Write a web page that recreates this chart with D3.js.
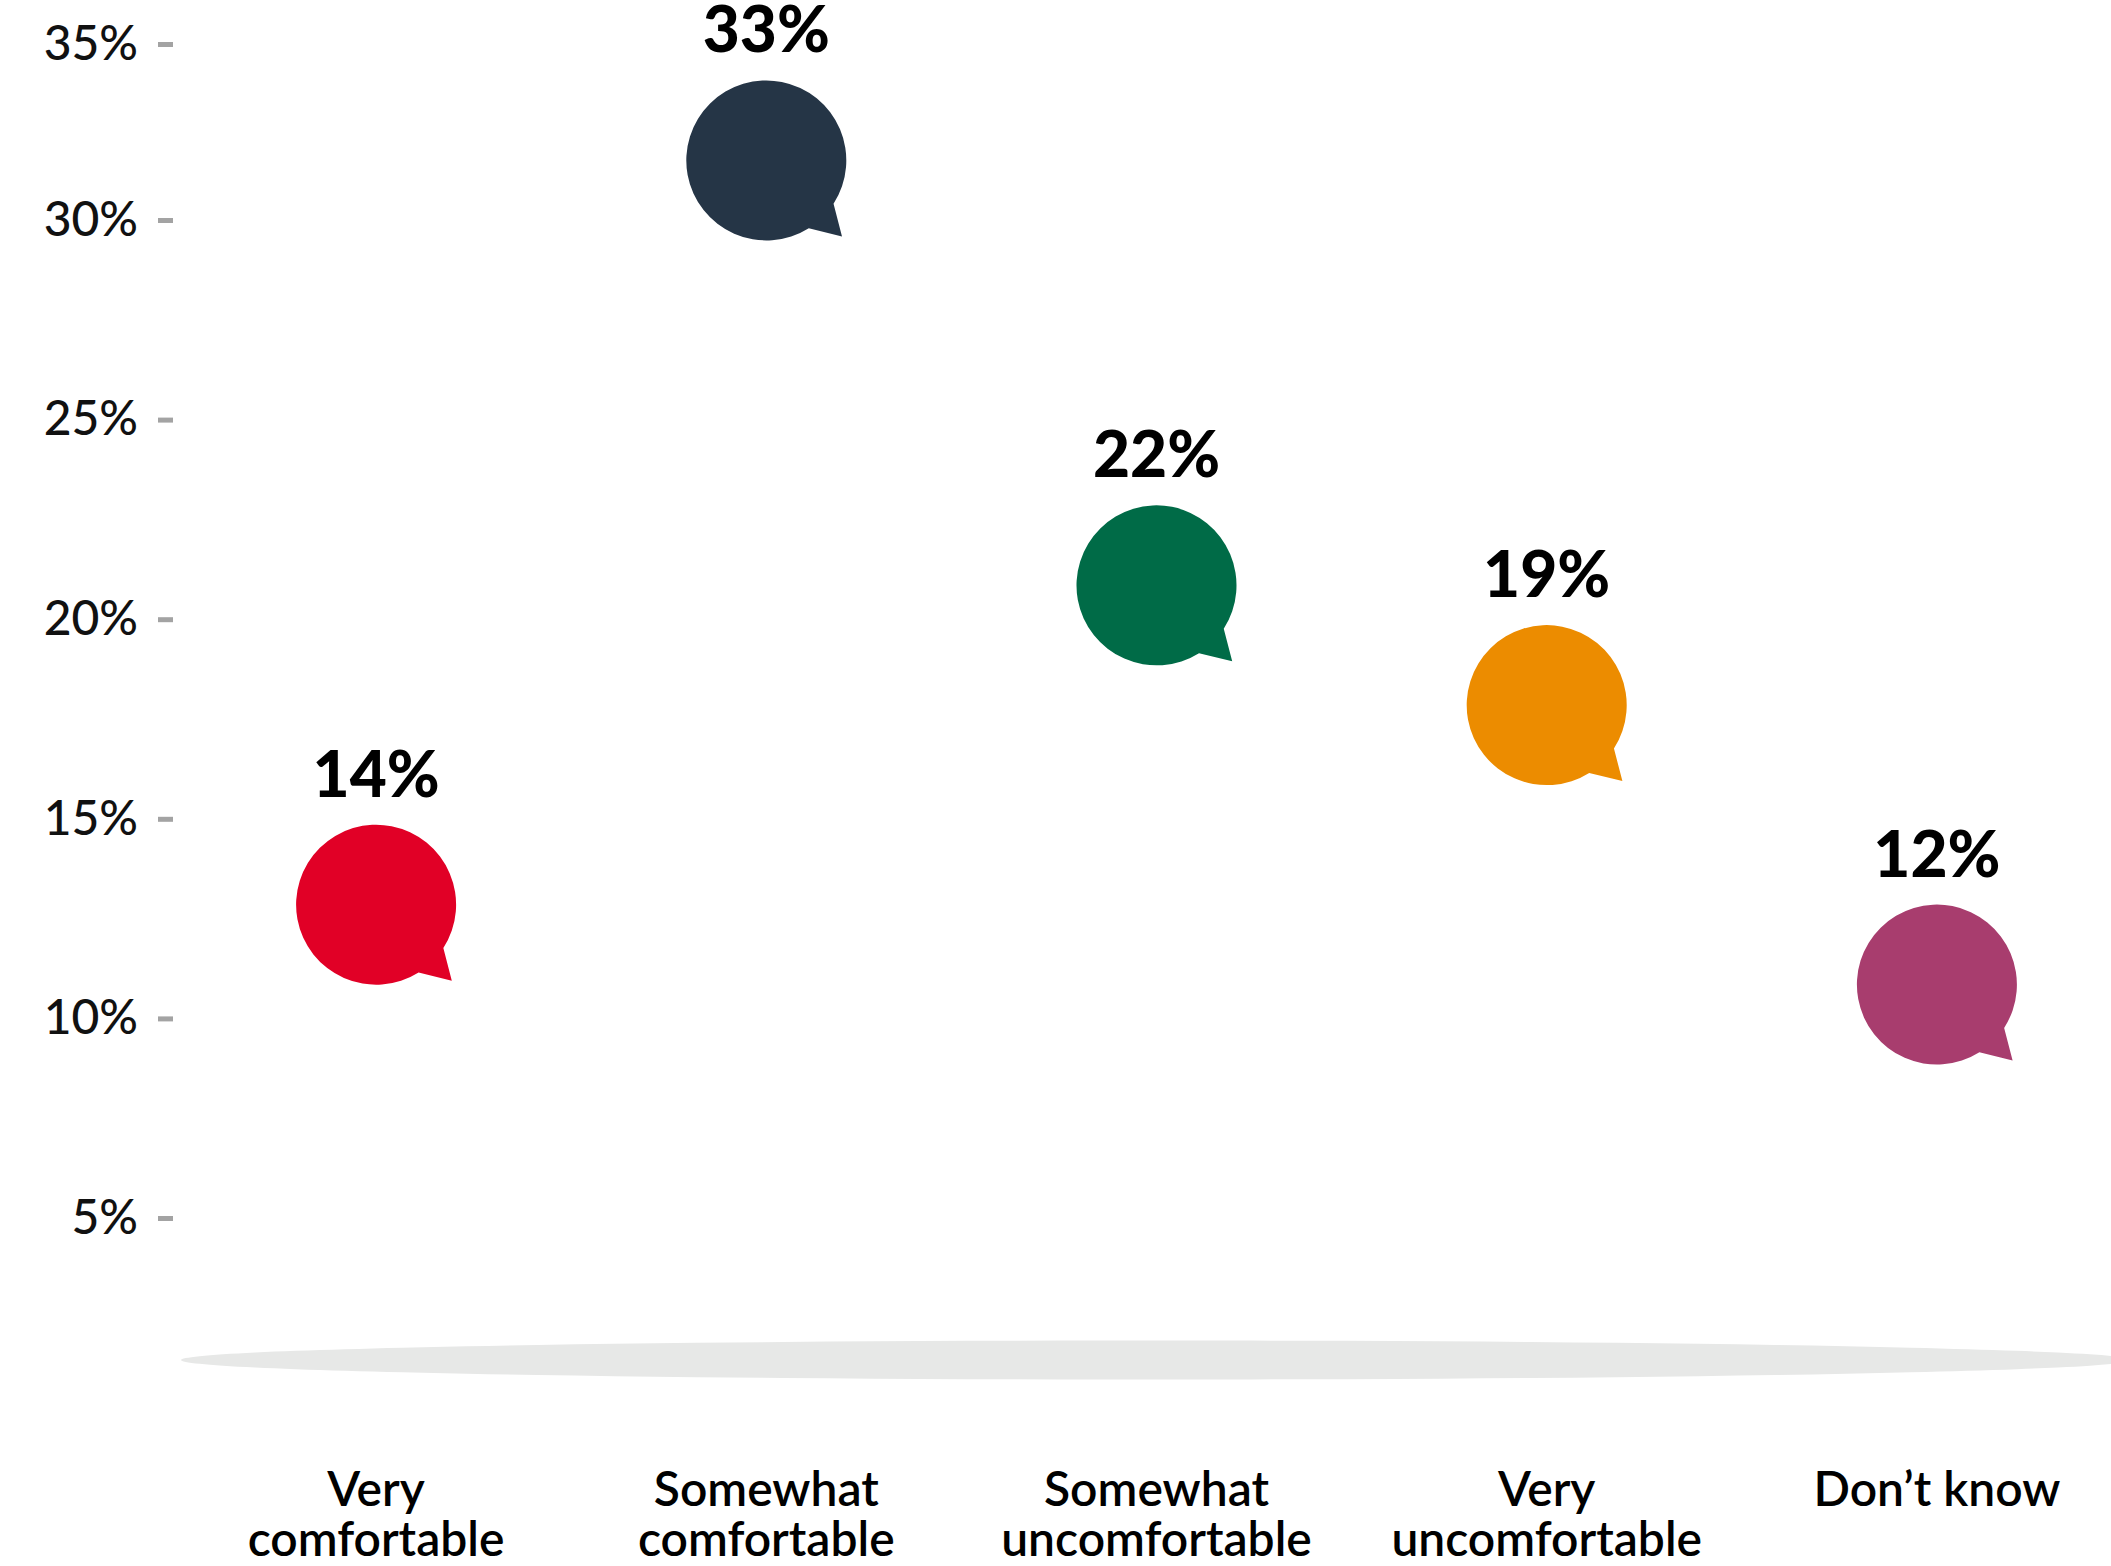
<!DOCTYPE html>
<html>
<head>
<meta charset="utf-8">
<script src="https://cdn.jsdelivr.net/npm/d3@7"></script>
<style>
  html, body { margin: 0; padding: 0; background: #ffffff; }
  svg { display: block; font-family: Lato, "Noto Sans", sans-serif; }
</style>
</head>
<body>
<svg id="chart" width="2111" height="1566"></svg>
<script>
// Survey responses: share of respondents per comfort level
const categories = ["Very comfortable", "Somewhat comfortable", "Somewhat uncomfortable", "Very uncomfortable", "Don’t know"];
const labelLines = [["Very", "comfortable"], ["Somewhat", "comfortable"], ["Somewhat", "uncomfortable"], ["Very", "uncomfortable"], ["Don’t know"]];
const values = [14, 33, 22, 19, 12];
const colors = ["#E10026", "#253546", "#006B47", "#EC8C00", "#A83D6E"];
const yTicks = [5, 10, 15, 20, 25, 30, 35];

const svg = d3.select("#chart");

// Scales (the top step of the value axis is slightly compressed)
const x = d3.scaleBand().domain(categories).range([181, 2132]);
const y = d3.scaleLinear().domain([5, 30, 35]).range([1218, 220, 44]);
const cx = c => x(c) + x.bandwidth() / 2;

// Floor shadow under the bubbles
const [x0, x1] = x.range();
svg.append("ellipse")
  .attr("cx", (x0 + x1) / 2)
  .attr("cy", 1360)
  .attr("rx", (x1 - x0) / 2)
  .attr("ry", 19.5)
  .attr("fill", "#E7E8E7");

// Y axis: short grey dashes with percentage labels, no spine
const yAxis = d3.axisLeft(y)
  .tickValues(yTicks)
  .tickFormat(d => d + "%")
  .tickSizeInner(15)
  .tickSizeOuter(0)
  .tickPadding(20);

const gy = svg.append("g")
  .attr("transform", "translate(173,0)")
  .call(yAxis);
gy.select(".domain").remove();
gy.selectAll(".tick line")
  .attr("stroke", "#A3A3A3")
  .attr("stroke-width", 5);
gy.selectAll(".tick text")
  .attr("fill", "#111")
  .attr("font-size", 48)
  .attr("font-weight", 500)
  .attr("font-family", "Lato, sans-serif");

// Speech-bubble marks: circle with a tail at lower right
const R = 80;
const ang = a => a * Math.PI / 180;
const aStart = ang(57.9), aEnd = ang(32.8);
const tip = [75.7, 76];
const bubblePath =
  `M${R * Math.cos(aStart)},${R * Math.sin(aStart)}` +
  `A${R},${R} 0 1 1 ${R * Math.cos(aEnd)},${R * Math.sin(aEnd)}` +
  `L${tip[0]},${tip[1]}Z`;

// Bubble centre sits a little below its value point
const drop = 46;

const data = categories.map((c, i) => ({ c, v: values[i], color: colors[i], lines: labelLines[i] }));

const marks = svg.append("g").selectAll("g.mark")
  .data(data)
  .join("g")
  .attr("class", "mark")
  .attr("transform", d => `translate(${cx(d.c)},${y(d.v) + drop})`);

marks.append("path")
  .attr("d", bubblePath)
  .attr("fill", d => d.color);

marks.append("text")
  .attr("y", -108)
  .attr("text-anchor", "middle")
  .attr("font-size", 64)
  .attr("font-weight", 900)
  .attr("fill", "#000")
  .text(d => d.v + "%");

// Category labels
const xl = svg.append("g").selectAll("text.cat")
  .data(data)
  .join("text")
  .attr("class", "cat")
  .attr("x", d => cx(d.c))
  .attr("y", 1506)
  .attr("text-anchor", "middle")
  .attr("font-size", 48)
  .attr("font-weight", 600)
  .attr("fill", "#000");

xl.selectAll("tspan")
  .data(d => d.lines)
  .join("tspan")
  .attr("x", function () { return d3.select(this.parentNode).attr("x"); })
  .attr("dy", (d, i) => i === 0 ? 0 : 50)
  .text(d => d);
</script>
</body>
</html>
